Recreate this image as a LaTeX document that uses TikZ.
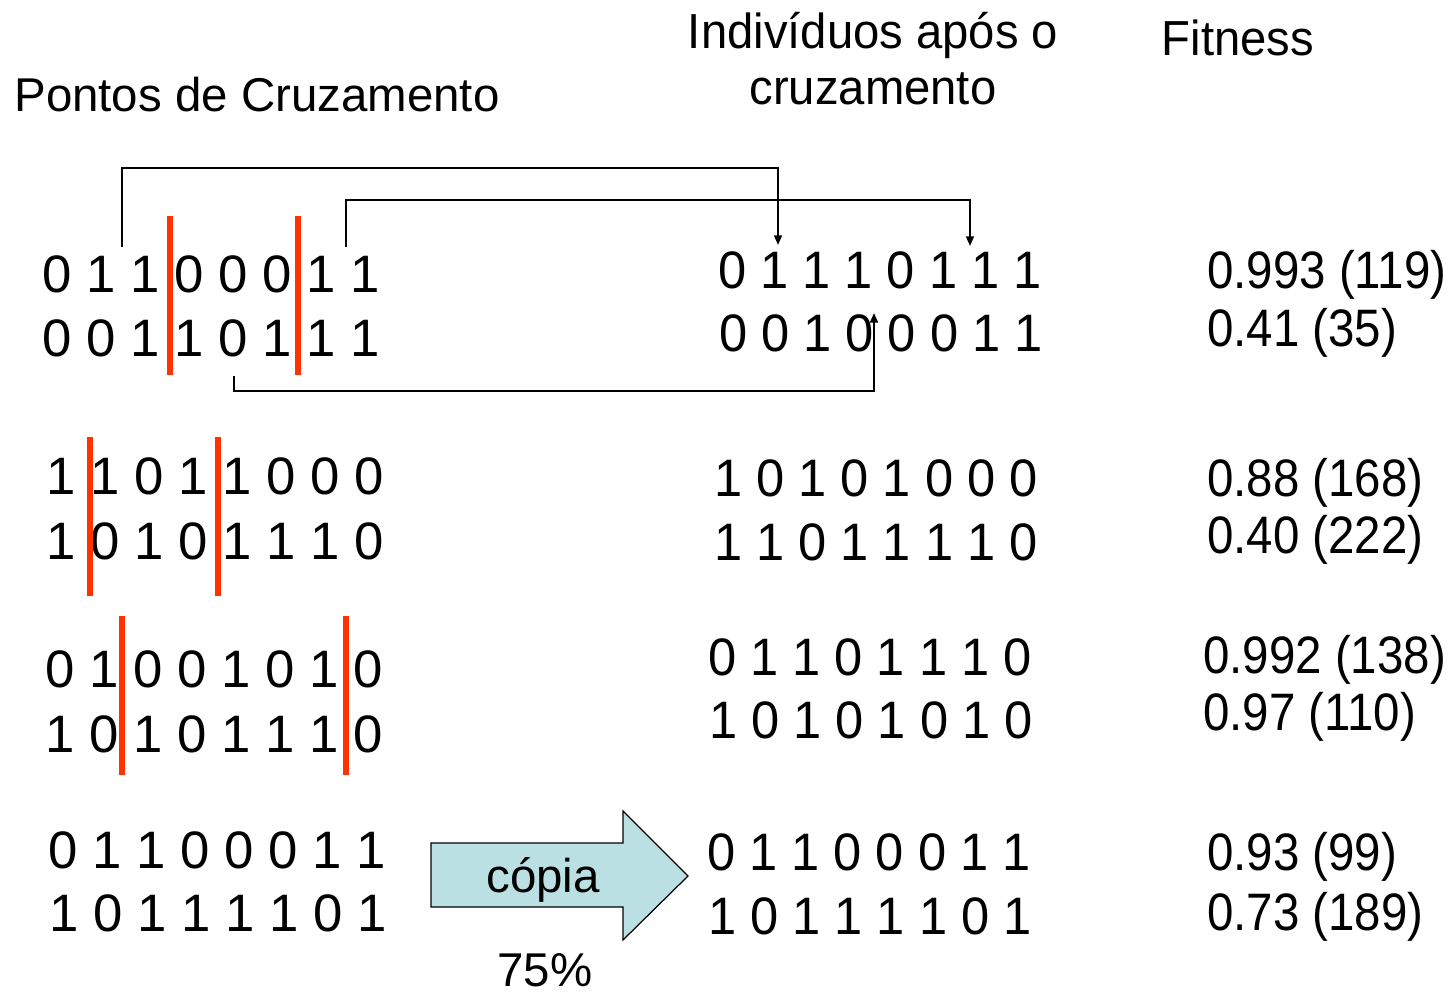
\documentclass[tikz,border=0pt]{standalone}
\usepackage{fontspec}
\setmainfont{Liberation Sans}
\newfontfamily\narrowfont[FakeStretch=0.9]{Liberation Sans}
\newfontfamily\slimfont[FakeStretch=0.96]{Liberation Sans}
\usetikzlibrary{arrows.meta,positioning,calc}

\definecolor{cutred}{RGB}{255,51,0}
\definecolor{copyblue}{RGB}{187,224,227}

\tikzset{
  head/.style={inner sep=0pt, font=\slimfont\fontsize{28}{32.3}\selectfont},
  label/.style={inner sep=0pt, font=\fontsize{27}{32}\selectfont},
  bits/.style={inner sep=0pt, font=\fontsize{30}{36}\selectfont},
  newbits/.style={inner sep=0pt, font=\slimfont\fontsize{30}{36}\selectfont},
  fit/.style={inner sep=0pt, anchor=west, text height=21pt, text depth=0pt, font=\narrowfont\fontsize{30}{36}\selectfont},
  cut/.style={draw=cutred, line width=3.4pt},
  link/.style={draw=black, line width=1.1pt, -{Triangle[length=5.5pt,width=4.5pt]}},
  copyarrow/.style={draw=black, line width=0.7pt, fill=copyblue}
}

\begin{document}
\begin{tikzpicture}[x=0.02cm, y=-0.02cm]
\useasboundingbox (0,0) rectangle (1454,996);

% Headings
\node[label, anchor=base] (hcross) at (257,112) {Pontos de Cruzamento};
\node[head, anchor=base, align=center] (hafter) at (873,105) {Indivíduos após o\\cruzamento};
\node[head, anchor=base] (hfit) at (1238,56) {Fitness};

% Parents (left)
\node[bits] (l1a) at (211,274) {0 1 1 0 0 0 1 1};
\node[bits] (l1b) at (211,338) {0 0 1 1 0 1 1 1};
\node[bits] (l2a) at (215,476) {1 1 0 1 1 0 0 0};
\node[bits] (l2b) at (215,541) {1 0 1 0 1 1 1 0};
\node[bits] (l3a) at (214,669) {0 1 0 0 1 0 1 0};
\node[bits] (l3b) at (214,734) {1 0 1 0 1 1 1 0};
\node[bits] (l4a) at (217,850) {0 1 1 0 0 0 1 1};
\node[bits] (l4b) at (218,913) {1 0 1 1 1 1 0 1};

% Crossover points
\draw[cut] (170,216) -- (170,375);
\draw[cut] (298,216) -- (298,375);
\draw[cut] (90,437) -- (90,596);
\draw[cut] (218,437) -- (218,596);
\draw[cut] (122,616) -- (122,775);
\draw[cut] (346,616) -- (346,775);

% Offspring (right)
\node[newbits] (r1a) at (880,270) {0 1 1 1 0 1 1 1};
\node[newbits] (r1b) at (881,333) {0 0 1 0 0 0 1 1};
\node[newbits] (r2a) at (876,478) {1 0 1 0 1 0 0 0};
\node[newbits] (r2b) at (876,542) {1 1 0 1 1 1 1 0};
\node[newbits] (r3a) at (870,657) {0 1 1 0 1 1 1 0};
\node[newbits] (r3b) at (871,720) {1 0 1 0 1 0 1 0};
\node[newbits] (r4a) at (869,852) {0 1 1 0 0 0 1 1};
\node[newbits] (r4b) at (870,916) {1 0 1 1 1 1 0 1};

% Gene transfers of the first pair
\coordinate (s1) at (122,247);
\coordinate (t1) at (778,245);
\coordinate (s2) at (346,247);
\coordinate (t2) at (970,246);
\coordinate (s3) at (234,376);
\coordinate (t3) at (874,313);
\draw[link] (s1) -- ++(0,-79) -| (t1);
\draw[link] (s2) -- ++(0,-47) -| (t2);
\draw[link] (s3) -- ++(0,15) -| (t3);

% Copy of the last pair
\draw[copyarrow] (431,843) -- (623,843) -- (623,811) -- (688,876) -- (623,940) -- (623,907) -- (431,907) -- cycle;
\node[label, anchor=base] (copy) at (543,892) {cópia};
\node[label, anchor=base] (rate) at (545,986) {75\%};

% Fitness
\node[fit] (f1a) at (1207,270) {0.993 (119)};
\node[fit] (f1b) at (1207,328) {0.41 (35)};
\node[fit] (f2a) at (1207,478) {0.88 (168)};
\node[fit] (f2b) at (1207,535) {0.40 (222)};
\node[fit] (f3a) at (1203,655) {0.992 (138)};
\node[fit] (f3b) at (1203,712) {0.97 (110)};
\node[fit] (f4a) at (1207,852) {0.93 (99)};
\node[fit] (f4b) at (1207,912) {0.73 (189)};

\end{tikzpicture}
\end{document}
